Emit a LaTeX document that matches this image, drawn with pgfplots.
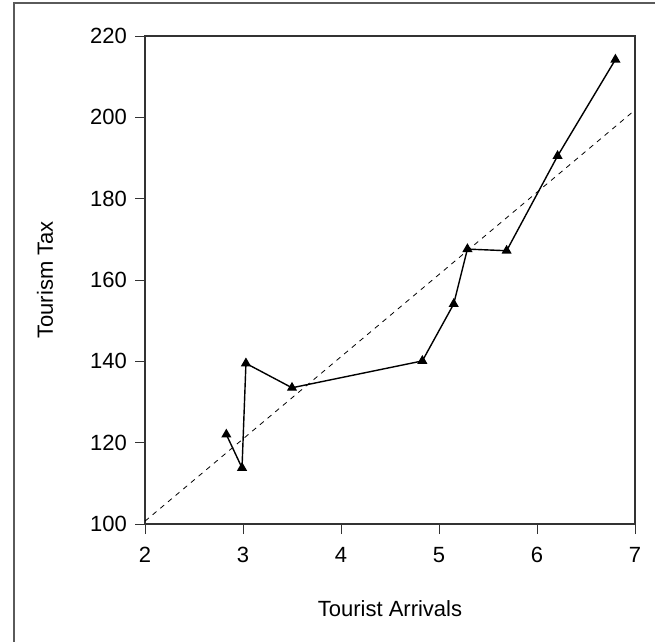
\documentclass[border=0pt]{standalone}
\usepackage{pgfplots}
\pgfplotsset{compat=1.18}
\usepackage{fontspec}
\setmainfont{Liberation Sans}
\definecolor{axgray}{HTML}{333333}
\definecolor{framegray}{HTML}{5A5A5A}
\begin{document}
\fontsize{22}{26}\selectfont
\begin{tikzpicture}
\useasboundingbox (0pt,0pt) rectangle (655pt,641pt);
\draw[framegray, line width=1.5pt] (14pt,-5pt) -- (14pt,638pt) -- (660pt,638pt);
\begin{axis}[
  at={(145pt,117pt)}, anchor=south west,
  scale only axis, width=490pt, height=488pt,
  xmin=2, xmax=7, ymin=100, ymax=220,
  xtick={2,3,4,5,6,7}, ytick={100,120,140,160,180,200,220},
  xtick pos=bottom, ytick pos=left,
  tick align=outside, major tick length=10pt,
  axis line style={axgray, line width=1.2pt},
  every tick/.style={axgray, line width=0.9pt},
  /pgf/number format/assume math mode=true,
  xticklabel style={anchor=north, inner sep=0pt, yshift=-13pt, font=\fontsize{22}{26}\selectfont},
  yticklabel style={anchor=east, inner sep=0pt, xshift=-8pt, font=\fontsize{22}{26}\selectfont},
  xlabel={Tourist Arrivals}, ylabel={Tourism Tax},
  xlabel style={at={(axis description cs:0.5,-0.1885)}, anchor=base, inner sep=0pt, font=\fontsize{22}{26}\selectfont},
  ylabel style={at={(axis description cs:-0.1878,0.5)}, anchor=base, rotate=0, inner sep=0pt, font=\fontsize{22}{26}\selectfont},
  clip=false,
]
\addplot[black, line width=0.8pt, dash pattern=on 5pt off 5pt, no marks] coordinates {(2,100.7) (7,201.8)};
\addplot[black, line width=1.4pt, mark=triangle*, mark size=4.5pt, mark options={solid}] coordinates {
(2.83,122) (2.99,113.8) (3.03,139.5) (3.50,133.5) (4.83,140.1) (5.15,154.1) (5.29,167.6) (5.69,167.2) (6.21,190.5) (6.80,214.2)
};
\end{axis}
\end{tikzpicture}
\end{document}
